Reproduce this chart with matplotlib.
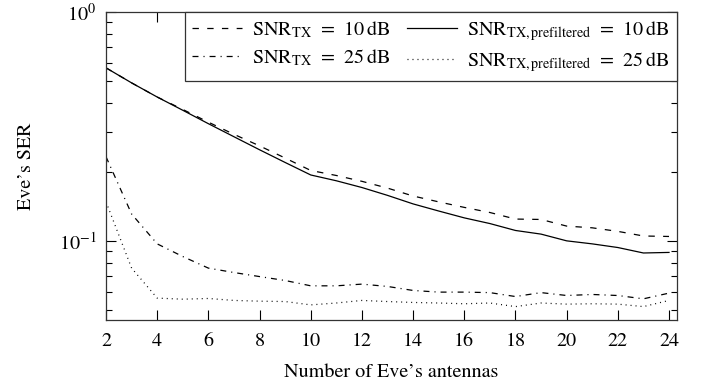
import matplotlib
matplotlib.use("Agg")
import matplotlib.pyplot as plt
from matplotlib.ticker import LogLocator, NullFormatter

plt.rcParams['font.family'] = ['STIXGeneral', 'DejaVu Serif']
plt.rcParams['mathtext.fontset'] = 'stix'
plt.rcParams['lines.scale_dashes'] = False

# number of Eve's antennas
antennas = list(range(2, 25))

# Eve's SER for each setting
ser_10db = [0.57, 0.49, 0.425, 0.375, 0.33, 0.292, 0.26, 0.23, 0.203, 0.193,
            0.182, 0.17, 0.157, 0.148, 0.140, 0.133, 0.1245, 0.124, 0.116,
            0.114, 0.110, 0.105, 0.1045]
ser_10db_pre = [0.57, 0.49, 0.425, 0.372, 0.325, 0.285, 0.25, 0.22, 0.194,
                0.183, 0.171, 0.158, 0.145, 0.135, 0.126, 0.119, 0.111, 0.107,
                0.100, 0.097, 0.0935, 0.0885, 0.089]
ser_25db = [0.233, 0.131, 0.097, 0.0854, 0.076, 0.0727, 0.0698, 0.0671,
            0.0636, 0.0636, 0.0647, 0.0632, 0.0607, 0.0597, 0.0597, 0.0594,
            0.0571, 0.0594, 0.0577, 0.0583, 0.0577, 0.0558, 0.0591]
ser_25db_pre = [0.148, 0.076, 0.0562, 0.0556, 0.0560, 0.0549, 0.0545, 0.0543,
                0.0525, 0.0535, 0.0549, 0.0543, 0.0538, 0.0535, 0.0531, 0.0535,
                0.0516, 0.0535, 0.0529, 0.0531, 0.0529, 0.0516, 0.0549]

labels = [r'$\mathrm{SNR}_{\mathrm{TX}}\;\,=\;\,10\,\mathrm{dB}$',
          r'$\mathrm{SNR}_{\mathrm{TX}}\;\,=\;\,25\,\mathrm{dB}$',
          r'$\mathrm{SNR}_{\mathrm{TX,prefiltered}}\;\,=\;\,10\,\mathrm{dB}$',
          r'$\mathrm{SNR}_{\mathrm{TX,prefiltered}}\;\,=\;\,25\,\mathrm{dB}$']

fs = 14.5

fig = plt.figure(figsize=(7.04, 3.84), dpi=100)
ax = fig.add_axes([0.1506, 0.1667, 0.8106, 0.8021])

lw = 0.9
ax.plot(antennas, ser_10db, color='black', lw=lw, dashes=(4.6, 6.0), label=labels[0])
ax.plot(antennas, ser_25db, color='black', lw=lw, dashes=(4.3, 3.6, 0.8, 3.6), label=labels[1])
ax.plot(antennas, ser_10db_pre, color='black', lw=lw, label=labels[2])
ax.plot(antennas, ser_25db_pre, color='black', lw=lw, dashes=(0.7, 2.9), label=labels[3])

ax.set_yscale('log')
ax.set_xlim(2, 24.3)
ax.set_ylim(0.0451, 1)
ax.set_xticks(range(2, 25, 2))
ax.yaxis.set_major_locator(LogLocator(base=10))
ax.yaxis.set_minor_locator(LogLocator(base=10, subs=range(2, 10)))
ax.yaxis.set_minor_formatter(NullFormatter())

ax.tick_params(which='both', direction='in', top=True, right=True, labelsize=fs)
ax.tick_params(which='major', length=7, width=0.8)
ax.tick_params(which='minor', length=4.5, width=0.8)
ax.tick_params(axis='x', pad=9)
ax.tick_params(axis='y', pad=7)
ax.minorticks_on()
ax.xaxis.set_minor_locator(plt.NullLocator())

for s in ax.spines.values():
    s.set_linewidth(0.9)
    s.set_color('#333333')

ax.set_xlabel('Number of Eve\u2019s antennas', fontsize=fs, labelpad=10)
ax.set_ylabel('Eve\u2019s SER', fontsize=fs, labelpad=17)

leg = ax.legend(ncol=2, loc='upper right', fontsize=fs, frameon=True,
                fancybox=False, framealpha=1, edgecolor='#333333',
                borderaxespad=0, handlelength=2.5, handletextpad=0.5,
                columnspacing=0.8, labelspacing=0.35, borderpad=0.35)
leg.get_frame().set_linewidth(0.9)

fig.savefig('out.png', dpi=100)
